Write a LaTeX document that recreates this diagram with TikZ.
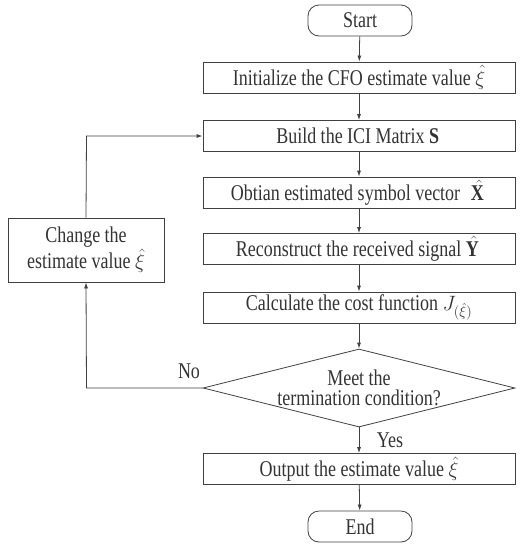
\documentclass[tikz,border=0pt]{standalone}
\usepackage{amsmath}
\usepackage{amssymb}
\usepackage{fontspec}
\setmainfont[FakeStretch=0.8]{Liberation Serif}
\usetikzlibrary{shapes.geometric,arrows.meta}

\begin{document}
\begin{tikzpicture}[x=1pt,y=-1pt]
 	\tikzstyle{every node}+=[inner sep=0pt, font=\fontsize{22.5}{24}\selectfont, text=black!80]
 	\tikzstyle{procbox}=[draw=black!75, line width=0.8pt, minimum width=312pt, minimum height=31pt]
 	\tikzstyle{termbox}=[draw=black!75, line width=0.8pt, rounded corners=11pt, minimum width=104pt, minimum height=31pt]
 	\tikzstyle{flow}=[draw=black!75, line width=0.8pt, -{Latex[length=6pt,width=4pt]}]
 	\useasboundingbox (0,0) rectangle (522,550);
 	\node [termbox] (start) at (360,20.5) {Start};
 	\node [procbox] (init) at (359,77.5) {Initialize the CFO estimate value $\hat{\xi}$};
 	\node [procbox] (build) at (359,136) {Build the ICI Matrix $\mathbf{S}$};
 	\node [procbox] (obtain) at (359,192.5) {Obtian estimated symbol vector\; $\hat{\mathbf{X}}$};
 	\node [procbox] (recon) at (359,249) {Reconstruct the received signal $\hat{\mathbf{Y}}$};
 	\node [procbox] (cost) at (359,307.5) {Calculate the cost function $J_{(\hat{\xi})}$};
 	\node [draw=black!75, line width=0.8pt, diamond, aspect=4, minimum width=312pt, minimum height=78pt, align=center, font=\fontsize{22.5}{20}\selectfont] (cond) at (359,388) {Meet the\\termination condition?};
 	\node [procbox] (out) at (359,469) {Output the estimate value $\hat{\xi}$};
 	\node [termbox] (end) at (360,526.5) {End};
 	\node [draw=black!75, line width=0.8pt, minimum width=156pt, minimum height=64pt, align=center, font=\fontsize{22.5}{26}\selectfont] (change) at (86,250) {Change the\\estimate value $\hat{\xi}$};
 	\coordinate (corner) at (86.5,388);
 	\coordinate (back) at (86.5,136);
 	\draw [flow] (start) -- (init);
 	\draw [flow] (init) -- (build);
 	\draw [flow] (build) -- (obtain);
 	\draw [flow] (obtain) -- (recon);
 	\draw [flow] (recon) -- (cost);
 	\draw [flow] (cost) -- (cond);
 	\draw [flow] (cond) -- (out);
 	\draw [flow] (out) -- (end);
 	\draw [flow] (cond.west) -- (corner) -- (change.south);
 	\draw [flow] (change.north) -- (back) -- (build.west);
 	\node (no) at (189,371) {No};
 	\node (yes) at (390,440) {Yes};
\end{tikzpicture}
\end{document}
